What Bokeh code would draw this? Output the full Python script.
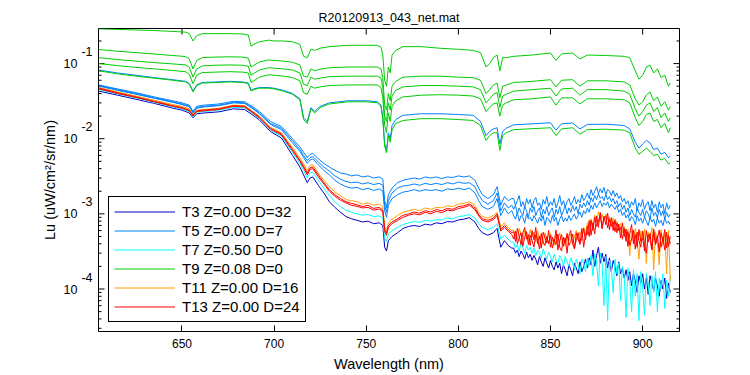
import sys
import math
from bokeh.plotting import figure
from bokeh.models import Range1d, FixedTicker, LogAxis, Legend, LegendItem
from bokeh.embed import file_html
from bokeh.resources import INLINE

# ---------------- texts / ticks ----------------
TITLE = "R20120913_043_net.mat"
XLABEL = "Wavelength (nm)"
YLABEL = "Lu (uW/cm\u00b2/sr/nm)"
XTICKS = [650, 700, 750, 800, 850, 900]
YTICKS = [1e-4, 1e-3, 1e-2, 1e-1]
YTICK_EXP = ["-4", "-3", "-2", "-1"]
YMINOR = [m * 10.0 ** e for e in range(-5, 0) for m in range(2, 10)]
X_RANGE = (604.7, 920.0)
Y_RANGE = (2.72e-5, 0.293)
LEGEND_LABELS = ["T3 Z=0.00 D=32", "T5 Z=0.00 D=7", "T7 Z=0.50 D=0",
                 "T9 Z=0.08 D=0", "T11 Z=0.00 D=16", "T13 Z=0.00 D=24"]
COLORS = ["#0000CC", "#0080FF", "#00FFFF", "#00CC00", "#FFA000", "#FF0000"]

# ---------------- upper group (green T9 + one blue T5) ----------------
WL_UP = [605, 615, 625, 635, 645, 652, 654, 656, 658, 661,
         668, 676, 683, 686, 687.5, 689, 692, 697, 700, 705,
         710, 714, 716, 718, 720, 722, 725, 730, 740, 750,
         756, 758, 759, 760, 761, 762, 763, 764, 766, 770,
         780, 790, 800, 808, 812, 815, 817, 819, 821, 822.5,
         824, 826, 830, 840, 850, 853, 856, 862, 866, 870,
         880, 890, 893, 896, 898, 900, 902, 904, 906, 908,
         910, 912, 914, 915]

G1 = [0.29, 0.285, 0.28, 0.275, 0.268, 0.262, 0.25, 0.2, 0.235, 0.25,
      0.25, 0.25, 0.248, 0.24, 0.17, 0.18, 0.195, 0.205, 0.2, 0.2,
      0.195, 0.18, 0.125, 0.12, 0.155, 0.15, 0.16, 0.168, 0.175, 0.175,
      0.175, 0.165, 0.13, 0.06, 0.05, 0.09, 0.075, 0.13, 0.15, 0.168,
      0.168, 0.16, 0.155, 0.15, 0.14, 0.09, 0.1, 0.12, 0.13, 0.08,
      0.12, 0.12, 0.125, 0.13, 0.138, 0.11, 0.135, 0.138, 0.115, 0.13,
      0.128, 0.125, 0.12, 0.08, 0.062, 0.07, 0.09, 0.095, 0.075, 0.085,
      0.065, 0.07, 0.05, 0.055]
G2 = [0.154, 0.146, 0.14, 0.134, 0.128, 0.124, 0.115, 0.085, 0.11, 0.12,
      0.122, 0.123, 0.122, 0.118, 0.09, 0.095, 0.105, 0.112, 0.11, 0.108,
      0.104, 0.096, 0.068, 0.066, 0.085, 0.08, 0.084, 0.088, 0.09, 0.09,
      0.09, 0.085, 0.065, 0.028, 0.024, 0.04, 0.032, 0.05, 0.058, 0.066,
      0.068, 0.068, 0.066, 0.065, 0.06, 0.04, 0.045, 0.052, 0.055, 0.035,
      0.05, 0.052, 0.056, 0.058, 0.061, 0.049, 0.06, 0.061, 0.05, 0.059,
      0.059, 0.057, 0.052, 0.034, 0.028, 0.031, 0.038, 0.042, 0.032, 0.036,
      0.027, 0.031, 0.024, 0.027]
G3 = [0.12, 0.113, 0.108, 0.103, 0.099, 0.096, 0.089, 0.066, 0.085, 0.093,
      0.095, 0.096, 0.095, 0.092, 0.07, 0.074, 0.082, 0.088, 0.087, 0.085,
      0.082, 0.075, 0.053, 0.051, 0.066, 0.062, 0.064, 0.067, 0.068, 0.068,
      0.068, 0.064, 0.048, 0.02, 0.017, 0.03, 0.024, 0.037, 0.044, 0.049,
      0.051, 0.051, 0.05, 0.049, 0.045, 0.03, 0.034, 0.039, 0.041, 0.026,
      0.037, 0.039, 0.043, 0.045, 0.047, 0.037, 0.046, 0.047, 0.038, 0.045,
      0.045, 0.043, 0.039, 0.025, 0.02, 0.023, 0.028, 0.03, 0.023, 0.026,
      0.019, 0.022, 0.017, 0.019]
G4 = [0.1, 0.094, 0.089, 0.085, 0.081, 0.078, 0.072, 0.054, 0.07, 0.076,
      0.077, 0.078, 0.077, 0.075, 0.056, 0.059, 0.066, 0.071, 0.07, 0.068,
      0.065, 0.059, 0.041, 0.039, 0.05, 0.047, 0.049, 0.051, 0.052, 0.052,
      0.052, 0.048, 0.035, 0.015, 0.012, 0.022, 0.017, 0.027, 0.032, 0.036,
      0.038, 0.0385, 0.038, 0.037, 0.034, 0.023, 0.026, 0.029, 0.03, 0.02,
      0.028, 0.03, 0.033, 0.034, 0.036, 0.028, 0.035, 0.035, 0.029, 0.034,
      0.034, 0.033, 0.03, 0.019, 0.015, 0.017, 0.021, 0.022, 0.017, 0.018,
      0.014, 0.016, 0.012, 0.014]
G5 = [0.08, 0.073, 0.068, 0.064, 0.06, 0.057, 0.053, 0.042, 0.051, 0.055,
      0.056, 0.057, 0.056, 0.054, 0.043, 0.045, 0.047, 0.047, 0.046, 0.043,
      0.039, 0.033, 0.018, 0.016, 0.025, 0.022, 0.026, 0.029, 0.031, 0.031,
      0.03, 0.027, 0.018, 0.008, 0.0065, 0.011, 0.009, 0.013, 0.016, 0.0175,
      0.0185, 0.0185, 0.018, 0.0175, 0.015, 0.0095, 0.011, 0.012, 0.012, 0.007,
      0.011, 0.012, 0.0132, 0.0136, 0.014, 0.011, 0.0135, 0.014, 0.0115, 0.0132,
      0.0134, 0.013, 0.012, 0.0075, 0.0062, 0.0068, 0.0075, 0.0068, 0.006, 0.0062,
      0.0052, 0.0055, 0.0046, 0.0048]
BU = [0.082, 0.075, 0.07, 0.065, 0.061, 0.058, 0.054, 0.043, 0.052, 0.056,
      0.057, 0.058, 0.057, 0.055, 0.044, 0.046, 0.048, 0.048, 0.047, 0.044,
      0.04, 0.034, 0.019, 0.017, 0.026, 0.023, 0.027, 0.03, 0.032, 0.032,
      0.031, 0.028, 0.019, 0.0085, 0.007, 0.012, 0.01, 0.015, 0.018, 0.0205,
      0.0215, 0.0215, 0.021, 0.0205, 0.017, 0.011, 0.0125, 0.0135, 0.014, 0.0085,
      0.0125, 0.0138, 0.0153, 0.0158, 0.0163, 0.013, 0.0158, 0.0162, 0.0135, 0.0155,
      0.0156, 0.015, 0.0135, 0.009, 0.0075, 0.0085, 0.0095, 0.0088, 0.0072, 0.0075,
      0.0062, 0.0066, 0.0056, 0.0058]

# ---------------- lower group ----------------
WL_LO = [605, 615, 625, 635, 645, 650, 654, 656, 658, 662,
         670, 678, 684, 688, 692, 698, 704, 710, 714, 716,
         718, 719.5, 721, 724, 727, 730, 733, 736, 739, 742,
         745, 748, 751, 754, 757, 759, 760, 761, 762, 764,
         767, 770, 773, 776, 779, 782, 785, 788, 791, 794,
         797, 800, 803, 806, 809, 811, 813, 816, 819, 821,
         823, 825, 827, 829] + list(range(830, 916))

B1 = [5.2e-2, 4.6e-2, 4.1e-2, 3.6e-2, 3.2e-2, 3.0e-2, 2.8e-2, 2.3e-2, 2.7e-2, 2.8e-2,
      2.9e-2, 3.15e-2, 3.1e-2, 2.7e-2, 2.3e-2, 1.7e-2, 1.45e-2, 1.0e-2, 7.8e-3, 6.6e-3,
      5.6e-3, 6.2e-3, 6.4e-3, 5.4e-3, 4.7e-3, 4.2e-3, 3.8e-3, 3.5e-3, 3.4e-3, 3.2e-3,
      3.3e-3, 3.1e-3, 3.2e-3, 3.0e-3, 3.1e-3, 2.9e-3, 1.5e-3, 1.2e-3, 1.8e-3, 2.2e-3,
      2.6e-3, 2.8e-3, 2.9e-3, 3.0e-3, 2.9e-3, 3.1e-3, 3.0e-3, 3.1e-3, 2.95e-3, 3.1e-3,
      3.05e-3, 3.2e-3, 3.1e-3, 3.2e-3, 2.8e-3, 2.2e-3, 1.8e-3, 1.6e-3, 1.8e-3, 2.3e-3,
      1.3e-3, 1.7e-3, 1.5e-3, 1.6e-3,
      1.6e-3, 1.3e-3, 1.5e-3, 1.75e-3, 1.25e-3, 1.45e-3, 1.2e-3, 1.6e-3, 1.35e-3, 1.55e-3,
      1.2e-3, 1.5e-3, 1.65e-3, 1.3e-3, 1.4e-3, 1.15e-3, 1.55e-3, 1.35e-3, 1.7e-3, 1.25e-3,
      1.45e-3, 1.3e-3, 1.6e-3, 1.2e-3, 1.4e-3, 1.75e-3, 1.3e-3, 1.5e-3, 1.25e-3, 1.45e-3,
      1.6e-3, 1.3e-3, 1.45e-3, 1.7e-3, 1.35e-3, 1.55e-3, 1.4e-3, 1.8e-3, 1.5e-3, 1.65e-3,
      1.9e-3, 1.6e-3, 2.1e-3, 1.75e-3, 2.0e-3, 2.3e-3, 1.85e-3, 2.15e-3, 1.9e-3, 2.25e-3,
      1.8e-3, 2.1e-3, 2.0e-3, 1.75e-3, 2.05e-3, 1.7e-3, 1.9e-3, 1.6e-3, 1.75e-3, 1.45e-3,
      1.6e-3, 1.35e-3, 1.5e-3, 1.2e-3, 1.45e-3, 1.3e-3, 1.6e-3, 1.1e-3, 1.4e-3, 1.25e-3,
      1.55e-3, 1.15e-3, 1.35e-3, 1.45e-3, 1.1e-3, 1.5e-3, 1.2e-3, 1.35e-3, 1.05e-3, 1.45e-3,
      1.2e-3, 1.35e-3, 1.0e-3, 1.4e-3, 1.15e-3, 1.3e-3]
B2 = [5.1e-2, 4.5e-2, 4.0e-2, 3.5e-2, 3.1e-2, 2.9e-2, 2.7e-2, 2.25e-2, 2.6e-2, 2.7e-2,
      2.8e-2, 3.05e-2, 3.0e-2, 2.6e-2, 2.2e-2, 1.6e-2, 1.38e-2, 9.4e-3, 7.2e-3, 6.0e-3,
      5.1e-3, 5.6e-3, 5.8e-3, 4.9e-3, 4.2e-3, 3.7e-3, 3.2e-3, 2.9e-3, 2.7e-3, 2.6e-3,
      2.65e-3, 2.5e-3, 2.6e-3, 2.45e-3, 2.55e-3, 2.4e-3, 1.3e-3, 1.05e-3, 1.5e-3, 1.9e-3,
      2.2e-3, 2.35e-3, 2.4e-3, 2.5e-3, 2.4e-3, 2.55e-3, 2.45e-3, 2.55e-3, 2.45e-3, 2.6e-3,
      2.5e-3, 2.65e-3, 2.55e-3, 2.6e-3, 2.3e-3, 1.8e-3, 1.5e-3, 1.35e-3, 1.5e-3, 1.9e-3,
      1.1e-3, 1.4e-3, 1.2e-3, 1.3e-3,
      1.15e-3, 1.3e-3, 1.0e-3, 1.2e-3, 1.05e-3, 0.95e-3, 1.25e-3, 1.1e-3, 0.9e-3, 1.2e-3,
      1.05e-3, 1.25e-3, 0.95e-3, 1.1e-3, 1.2e-3, 0.9e-3, 1.15e-3, 1.0e-3, 1.25e-3, 0.95e-3,
      1.1e-3, 1.2e-3, 0.9e-3, 1.15e-3, 1.0e-3, 1.25e-3, 0.95e-3, 1.1e-3, 1.3e-3, 1.0e-3,
      1.2e-3, 1.05e-3, 1.3e-3, 1.1e-3, 1.25e-3, 1.0e-3, 1.35e-3, 1.2e-3, 1.4e-3, 1.25e-3,
      1.5e-3, 1.3e-3, 1.65e-3, 1.45e-3, 1.75e-3, 1.55e-3, 1.85e-3, 1.6e-3, 1.7e-3, 1.5e-3,
      1.8e-3, 1.55e-3, 1.7e-3, 1.45e-3, 1.6e-3, 1.35e-3, 1.5e-3, 1.25e-3, 1.4e-3, 1.15e-3,
      1.3e-3, 1.05e-3, 1.2e-3, 0.95e-3, 1.15e-3, 1.0e-3, 0.9e-3, 1.2e-3, 1.05e-3, 0.95e-3,
      1.15e-3, 0.9e-3, 1.1e-3, 1.0e-3, 0.85e-3, 1.2e-3, 0.95e-3, 1.05e-3, 0.88e-3, 1.15e-3,
      0.95e-3, 1.1e-3, 0.85e-3, 1.05e-3, 0.9e-3, 1.0e-3]
B3 = [5.0e-2, 4.4e-2, 3.9e-2, 3.45e-2, 3.05e-2, 2.85e-2, 2.65e-2, 2.2e-2, 2.55e-2, 2.65e-2,
      2.75e-2, 3.0e-2, 2.95e-2, 2.55e-2, 2.15e-2, 1.55e-2, 1.32e-2, 8.8e-3, 6.8e-3, 5.6e-3,
      4.7e-3, 5.2e-3, 5.4e-3, 4.5e-3, 3.8e-3, 3.3e-3, 2.8e-3, 2.5e-3, 2.3e-3, 2.2e-3,
      2.25e-3, 2.1e-3, 2.2e-3, 2.05e-3, 2.15e-3, 2.0e-3, 1.1e-3, 0.9e-3, 1.3e-3, 1.6e-3,
      1.8e-3, 1.95e-3, 2.0e-3, 2.1e-3, 2.0e-3, 2.1e-3, 2.05e-3, 2.1e-3, 2.0e-3, 2.15e-3,
      2.1e-3, 2.2e-3, 2.1e-3, 2.2e-3, 1.9e-3, 1.5e-3, 1.25e-3, 1.15e-3, 1.25e-3, 1.6e-3,
      0.95e-3, 1.2e-3, 1.0e-3, 1.1e-3,
      0.95e-3, 0.85e-3, 1.05e-3, 0.8e-3, 0.95e-3, 0.9e-3, 0.75e-3, 1.0e-3, 0.85e-3, 0.9e-3,
      0.8e-3, 0.95e-3, 0.85e-3, 0.75e-3, 0.9e-3, 0.8e-3, 0.95e-3, 0.7e-3, 0.9e-3, 0.85e-3,
      0.75e-3, 0.95e-3, 0.8e-3, 0.9e-3, 0.7e-3, 0.85e-3, 0.95e-3, 0.78e-3, 0.88e-3, 0.8e-3,
      0.95e-3, 0.82e-3, 0.9e-3, 1.0e-3, 0.85e-3, 0.95e-3, 1.05e-3, 0.9e-3, 1.1e-3, 1.0e-3,
      1.2e-3, 1.05e-3, 1.3e-3, 1.15e-3, 1.4e-3, 1.2e-3, 1.35e-3, 1.5e-3, 1.25e-3, 1.4e-3,
      1.3e-3, 1.45e-3, 1.2e-3, 1.35e-3, 1.25e-3, 1.15e-3, 1.3e-3, 1.05e-3, 1.15e-3, 0.95e-3,
      1.05e-3, 0.88e-3, 0.98e-3, 0.8e-3, 0.92e-3, 0.85e-3, 0.72e-3, 0.95e-3, 0.8e-3, 0.88e-3,
      0.75e-3, 0.92e-3, 0.8e-3, 0.7e-3, 0.9e-3, 0.78e-3, 0.85e-3, 0.68e-3, 0.88e-3, 0.75e-3,
      0.82e-3, 0.7e-3, 0.88e-3, 0.75e-3, 0.8e-3, 0.72e-3]
OR = [4.8e-2, 4.2e-2, 3.7e-2, 3.25e-2, 2.85e-2, 2.7e-2, 2.5e-2, 2.1e-2, 2.4e-2, 2.45e-2,
      2.55e-2, 2.8e-2, 2.75e-2, 2.35e-2, 2.0e-2, 1.42e-2, 1.2e-2, 7.6e-3, 5.6e-3, 4.6e-3,
      3.8e-3, 4.4e-3, 4.5e-3, 3.5e-3, 2.8e-3, 2.3e-3, 1.95e-3, 1.75e-3, 1.55e-3, 1.5e-3,
      1.45e-3, 1.35e-3, 1.4e-3, 1.3e-3, 1.35e-3, 1.25e-3, 6.8e-4, 6.0e-4, 7.5e-4, 8.5e-4,
      9.5e-4, 1.05e-3, 1.1e-3, 1.15e-3, 1.1e-3, 1.2e-3, 1.15e-3, 1.22e-3, 1.2e-3, 1.28e-3,
      1.25e-3, 1.35e-3, 1.38e-3, 1.45e-3, 1.3e-3, 1.05e-3, 9.2e-4, 8.8e-4, 9.5e-4, 1.05e-3,
      6.8e-4, 7.6e-4, 6.6e-4, 6.0e-4,
      6.1e-4, 5.0e-4, 4.6e-4, 6.4e-4, 5.4e-4, 4.4e-4, 6.0e-4, 5.2e-4, 4.3e-4, 6.2e-4,
      4.9e-4, 5.7e-4, 4.2e-4, 5.9e-4, 4.6e-4, 5.1e-4, 3.9e-4, 5.6e-4, 4.5e-4, 4.0e-4,
      5.5e-4, 4.5e-4, 3.8e-4, 5.2e-4, 4.3e-4, 5.6e-4, 4.0e-4, 4.7e-4, 3.7e-4, 5.1e-4,
      4.4e-4, 5.4e-4, 3.9e-4, 5.0e-4, 6.0e-4, 4.5e-4, 5.8e-4, 4.8e-4, 6.6e-4, 5.6e-4,
      7.6e-4, 6.1e-4, 8.6e-4, 7.0e-4, 9.6e-4, 7.8e-4, 1.06e-3, 8.5e-4, 9.9e-4, 8.0e-4,
      1.0e-3, 8.4e-4, 9.2e-4, 7.0e-4, 8.8e-4, 7.4e-4, 8.0e-4, 6.2e-4, 7.5e-4, 5.6e-4,
      6.8e-4, 4.9e-4, 6.2e-4, 2.8e-4, 5.9e-4, 4.4e-4, 6.4e-4, 4.6e-4, 2.5e-4, 5.9e-4,
      4.5e-4, 6.3e-4, 2.2e-4, 5.7e-4, 4.6e-4, 6.6e-4, 1.8e-4, 5.8e-4, 4.3e-4, 2.1e-4,
      6.2e-4, 3.8e-4, 5.4e-4, 1.6e-4, 6.1e-4, 1.3e-4]
R1 = [4.7e-2, 4.1e-2, 3.6e-2, 3.15e-2, 2.75e-2, 2.6e-2, 2.4e-2, 2.05e-2, 2.35e-2, 2.4e-2,
      2.5e-2, 2.75e-2, 2.7e-2, 2.3e-2, 1.95e-2, 1.38e-2, 1.16e-2, 7.2e-3, 5.2e-3, 4.3e-3,
      3.5e-3, 4.1e-3, 4.2e-3, 3.3e-3, 2.6e-3, 2.1e-3, 1.8e-3, 1.6e-3, 1.45e-3, 1.38e-3,
      1.32e-3, 1.25e-3, 1.3e-3, 1.18e-3, 1.22e-3, 1.12e-3, 6.2e-4, 5.5e-4, 7.0e-4, 7.8e-4,
      8.6e-4, 9.6e-4, 1.0e-3, 1.06e-3, 1.02e-3, 1.1e-3, 1.06e-3, 1.14e-3, 1.1e-3, 1.18e-3,
      1.15e-3, 1.25e-3, 1.28e-3, 1.36e-3, 1.2e-3, 9.8e-4, 8.6e-4, 8.2e-4, 8.8e-4, 1.0e-3,
      6.2e-4, 7.0e-4, 6.2e-4, 5.6e-4,
      5.8e-4, 4.3e-4, 6.4e-4, 5.1e-4, 3.9e-4, 5.6e-4, 6.6e-4, 4.6e-4, 5.3e-4, 3.8e-4,
      6.0e-4, 4.5e-4, 6.6e-4, 4.0e-4, 5.1e-4, 3.5e-4, 5.7e-4, 4.8e-4, 4.1e-4, 6.0e-4,
      3.6e-4, 4.9e-4, 4.2e-4, 6.1e-4, 3.3e-4, 4.4e-4, 5.3e-4, 3.7e-4, 4.8e-4, 3.0e-4,
      5.2e-4, 6.0e-4, 4.0e-4, 3.4e-4, 5.6e-4, 4.6e-4, 3.9e-4, 6.4e-4, 3.6e-4, 5.4e-4,
      5.3e-4, 8.2e-4, 5.2e-4, 7.6e-4, 5.4e-4, 9.4e-4, 6.6e-4, 1.05e-3, 6.3e-4, 9.3e-4,
      7.2e-4, 1.02e-3, 6.1e-4, 8.9e-4, 6.0e-4, 8.4e-4, 5.6e-4, 7.3e-4, 4.8e-4, 7.6e-4,
      5.0e-4, 6.3e-4, 3.7e-4, 5.4e-4, 7.2e-4, 4.0e-4, 5.3e-4, 3.6e-4, 6.2e-4, 4.3e-4,
      4.8e-4, 3.2e-4, 6.0e-4, 4.2e-4, 5.5e-4, 3.4e-4, 6.3e-4, 4.1e-4, 5.1e-4, 3.1e-4,
      5.6e-4, 4.3e-4, 6.2e-4, 3.5e-4, 5.2e-4, 4.0e-4]
R2 = [4.6e-2, 4.0e-2, 3.55e-2, 3.1e-2, 2.7e-2, 2.55e-2, 2.35e-2, 2.0e-2, 2.3e-2, 2.35e-2,
      2.45e-2, 2.7e-2, 2.65e-2, 2.25e-2, 1.9e-2, 1.34e-2, 1.12e-2, 6.9e-3, 5.0e-3, 4.1e-3,
      3.3e-3, 3.9e-3, 4.0e-3, 3.1e-3, 2.5e-3, 2.0e-3, 1.72e-3, 1.52e-3, 1.4e-3, 1.3e-3,
      1.26e-3, 1.2e-3, 1.22e-3, 1.12e-3, 1.16e-3, 1.06e-3, 5.8e-4, 5.2e-4, 6.6e-4, 7.4e-4,
      8.2e-4, 9.0e-4, 9.6e-4, 1.0e-3, 9.7e-4, 1.05e-3, 1.0e-3, 1.08e-3, 1.04e-3, 1.12e-3,
      1.1e-3, 1.18e-3, 1.22e-3, 1.3e-3, 1.14e-3, 9.4e-4, 8.2e-4, 7.8e-4, 8.4e-4, 9.5e-4,
      5.9e-4, 6.6e-4, 5.9e-4, 5.3e-4,
      4.6e-4, 5.9e-4, 4.0e-4, 4.8e-4, 5.6e-4, 3.7e-4, 4.9e-4, 5.8e-4, 3.9e-4, 5.2e-4,
      4.4e-4, 3.6e-4, 5.3e-4, 4.7e-4, 3.4e-4, 5.5e-4, 4.2e-4, 3.8e-4, 5.0e-4, 4.0e-4,
      5.2e-4, 3.5e-4, 4.5e-4, 3.9e-4, 5.4e-4, 3.6e-4, 3.2e-4, 4.9e-4, 4.1e-4, 5.5e-4,
      3.8e-4, 4.3e-4, 5.4e-4, 3.5e-4, 4.5e-4, 5.6e-4, 4.1e-4, 4.7e-4, 6.4e-4, 4.5e-4,
      6.9e-4, 5.0e-4, 8.2e-4, 6.0e-4, 9.0e-4, 6.8e-4, 8.0e-4, 9.6e-4, 6.6e-4, 8.7e-4,
      9.4e-4, 6.5e-4, 8.5e-4, 6.8e-4, 7.9e-4, 5.8e-4, 7.6e-4, 6.0e-4, 6.6e-4, 4.6e-4,
      6.4e-4, 4.3e-4, 5.8e-4, 3.8e-4, 4.6e-4, 6.1e-4, 3.4e-4, 5.7e-4, 4.4e-4, 3.6e-4,
      5.9e-4, 4.0e-4, 3.0e-4, 5.3e-4, 4.6e-4, 3.3e-4, 5.8e-4, 3.9e-4, 4.6e-4, 6.1e-4,
      3.6e-4, 4.8e-4, 3.3e-4, 5.7e-4, 3.7e-4, 5.0e-4]
CY = [4.5e-2, 3.95e-2, 3.5e-2, 3.05e-2, 2.65e-2, 2.5e-2, 2.3e-2, 1.95e-2, 2.25e-2, 2.3e-2,
      2.4e-2, 2.62e-2, 2.58e-2, 2.2e-2, 1.85e-2, 1.3e-2, 1.08e-2, 6.6e-3, 4.7e-3, 3.8e-3,
      3.0e-3, 3.5e-3, 3.6e-3, 2.8e-3, 2.2e-3, 1.75e-3, 1.45e-3, 1.25e-3, 1.12e-3, 1.05e-3,
      1.0e-3, 9.6e-4, 9.8e-4, 9.2e-4, 9.4e-4, 8.8e-4, 4.8e-4, 4.3e-4, 5.4e-4, 6.0e-4,
      6.6e-4, 7.2e-4, 7.6e-4, 7.9e-4, 7.7e-4, 8.2e-4, 8.0e-4, 8.4e-4, 8.3e-4, 8.8e-4,
      8.6e-4, 9.2e-4, 9.4e-4, 9.8e-4, 8.8e-4, 7.4e-4, 6.6e-4, 6.2e-4, 6.6e-4, 7.4e-4,
      4.6e-4, 5.2e-4, 4.6e-4, 4.2e-4,
      4.2e-4, 3.5e-4, 3.9e-4, 3.2e-4, 4.1e-4, 3.6e-4, 3.0e-4, 3.8e-4, 3.3e-4, 3.6e-4,
      3.0e-4, 3.5e-4, 2.8e-4, 3.3e-4, 3.1e-4, 2.6e-4, 3.4e-4, 2.9e-4, 2.5e-4, 3.1e-4,
      2.7e-4, 2.3e-4, 2.9e-4, 2.4e-4, 2.2e-4, 2.8e-4, 2.5e-4, 2.0e-4, 2.7e-4, 2.3e-4,
      2.0e-4, 2.6e-4, 2.2e-4, 1.8e-4, 2.5e-4, 2.1e-4, 1.6e-4, 2.5e-4, 2.2e-4, 1.7e-4,
      2.6e-4, 2.0e-4, 2.8e-4, 1.5e-4, 2.9e-4, 2.3e-4, 1.1e-4, 3.0e-4, 2.2e-4, 0.6e-4,
      2.7e-4, 0.38e-4, 2.4e-4, 1.9e-4, 0.9e-4, 2.5e-4, 1.6e-4, 2.2e-4, 0.7e-4, 2.0e-4,
      1.5e-4, 0.42e-4, 1.9e-4, 1.3e-4, 0.5e-4, 1.8e-4, 0.8e-4, 1.6e-4, 0.38e-4, 1.7e-4,
      1.1e-4, 0.45e-4, 1.6e-4, 1.2e-4, 0.6e-4, 1.5e-4, 0.9e-4, 1.7e-4, 0.5e-4, 1.4e-4,
      1.0e-4, 1.6e-4, 0.55e-4, 1.3e-4, 0.8e-4, 1.5e-4]
DB = [4.3e-2, 3.8e-2, 3.35e-2, 2.95e-2, 2.55e-2, 2.4e-2, 2.2e-2, 1.9e-2, 2.15e-2, 2.2e-2,
      2.28e-2, 2.5e-2, 2.45e-2, 2.1e-2, 1.78e-2, 1.25e-2, 1.02e-2, 6.0e-3, 4.2e-3, 3.3e-3,
      2.6e-3, 3.0e-3, 3.1e-3, 2.4e-3, 1.9e-3, 1.45e-3, 1.22e-3, 1.05e-3, 9.2e-4, 8.6e-4,
      8.2e-4, 7.8e-4, 8.0e-4, 7.4e-4, 7.6e-4, 7.0e-4, 3.6e-4, 3.2e-4, 4.4e-4, 5.0e-4,
      5.6e-4, 6.4e-4, 6.8e-4, 7.0e-4, 6.8e-4, 7.3e-4, 7.1e-4, 7.6e-4, 7.4e-4, 7.9e-4,
      7.8e-4, 8.3e-4, 8.5e-4, 8.9e-4, 7.8e-4, 6.4e-4, 5.6e-4, 5.2e-4, 5.6e-4, 6.4e-4,
      3.6e-4, 4.4e-4, 3.8e-4, 3.5e-4,
      3.5e-4, 3.0e-4, 3.3e-4, 2.7e-4, 3.2e-4, 2.9e-4, 2.5e-4, 3.1e-4, 2.6e-4, 2.9e-4,
      2.4e-4, 2.8e-4, 2.5e-4, 2.1e-4, 2.7e-4, 2.3e-4, 2.0e-4, 2.6e-4, 2.2e-4, 1.9e-4,
      2.4e-4, 2.0e-4, 1.8e-4, 2.3e-4, 1.9e-4, 2.2e-4, 1.6e-4, 2.1e-4, 1.8e-4, 1.5e-4,
      2.1e-4, 1.8e-4, 1.5e-4, 2.2e-4, 1.9e-4, 1.6e-4, 2.3e-4, 1.7e-4, 2.0e-4, 2.5e-4,
      1.9e-4, 2.6e-4, 2.1e-4, 3.3e-4, 2.0e-4, 2.8e-4, 3.6e-4, 2.2e-4, 3.0e-4, 2.3e-4,
      2.9e-4, 1.9e-4, 2.6e-4, 1.7e-4, 2.4e-4, 2.0e-4, 1.5e-4, 2.3e-4, 1.6e-4, 1.9e-4,
      1.4e-4, 1.8e-4, 1.3e-4, 1.7e-4, 1.1e-4, 1.6e-4, 1.3e-4, 0.9e-4, 1.5e-4, 1.2e-4,
      1.6e-4, 1.0e-4, 1.4e-4, 0.85e-4, 1.5e-4, 1.2e-4, 0.95e-4, 1.4e-4, 1.1e-4, 0.8e-4,
      1.3e-4, 1.0e-4, 1.4e-4, 0.75e-4, 1.2e-4, 0.9e-4]

FONT = "Liberation Sans"
FRAME_H = 303

p = figure(width=750, height=375,
           x_range=Range1d(*X_RANGE), y_range=Range1d(*Y_RANGE),
           y_axis_type="log", output_backend="svg", toolbar_location=None,
           min_border_left=98, min_border_right=71, min_border_top=28, min_border_bottom=44,
           background_fill_color="white", border_fill_color="white")
p.grid.visible = False
p.outline_line_color = "black"
p.outline_line_width = 1

# title
p.title.text = TITLE
p.title.align = "center"
p.title.text_font = FONT
p.title.text_font_size = "12.5px"
p.title.text_font_style = "normal"
p.title.text_color = "black"
p.title.standoff = 8

# bottom axis
xax = p.xaxis[0]
xax.ticker = FixedTicker(ticks=XTICKS)
xax.axis_line_color = "black"
xax.major_tick_line_color = "black"
xax.major_tick_in = 6
xax.major_tick_out = 0
xax.minor_tick_in = 0
xax.minor_tick_out = 0
xax.major_label_text_font = FONT
xax.major_label_text_font_size = "12px"
xax.major_label_text_color = "black"
xax.major_label_standoff = 7
xax.axis_label = XLABEL
xax.axis_label_text_font = FONT
xax.axis_label_text_font_size = "14.5px"
xax.axis_label_text_font_style = "normal"
xax.axis_label_text_color = "black"
xax.axis_label_standoff = 5

# left: inner axis carries the raised exponents, outer axis carries "10" and the title
px_per_decade = FRAME_H / math.log10(Y_RANGE[1] / Y_RANGE[0])
raise_factor = 10 ** (12 / px_per_decade)
exp_pos = [v * raise_factor for v in YTICKS]

yax = p.yaxis[0]
yax.ticker = FixedTicker(ticks=exp_pos, minor_ticks=[])
yax.major_label_overrides = {pos: e for pos, e in zip(exp_pos, YTICK_EXP)}
yax.axis_line_color = None
yax.major_tick_line_color = None
yax.minor_tick_line_color = None
yax.major_tick_in = 0
yax.major_tick_out = 0
yax.minor_tick_in = 0
yax.minor_tick_out = 0
yax.major_label_text_font = FONT
yax.major_label_text_font_size = "12.5px"
yax.major_label_text_color = "black"
yax.major_label_standoff = 6

outer = LogAxis(ticker=FixedTicker(ticks=YTICKS, minor_ticks=[]),
                major_label_overrides={v: "10" for v in YTICKS},
                axis_line_color=None, major_tick_line_color=None, minor_tick_line_color=None,
                major_tick_in=0, major_tick_out=0, minor_tick_in=0, minor_tick_out=0,
                major_label_text_font=FONT, major_label_text_font_size="12.5px",
                major_label_text_color="black", major_label_standoff=1,
                axis_label=YLABEL, axis_label_text_font=FONT, axis_label_text_font_size="14.5px",
                axis_label_text_font_style="normal", axis_label_text_color="black",
                axis_label_standoff=3)
p.add_layout(outer, "left")

# inward tick marks on the left, top and right edges of the box
p.ray(x=[X_RANGE[0]] * len(YTICKS), y=YTICKS, length=6, length_units="screen",
      angle=0, line_color="black", line_width=1)
p.ray(x=[X_RANGE[0]] * len(YMINOR), y=YMINOR, length=3, length_units="screen",
      angle=0, line_color="black", line_width=1)
p.ray(x=XTICKS, y=[Y_RANGE[1]] * len(XTICKS), length=6, length_units="screen",
      angle=-math.pi / 2, line_color="black", line_width=1)
p.ray(x=[X_RANGE[1]] * len(YTICKS), y=YTICKS, length=6, length_units="screen",
      angle=math.pi, line_color="black", line_width=1)
p.ray(x=[X_RANGE[1]] * len(YMINOR), y=YMINOR, length=3, length_units="screen",
      angle=math.pi, line_color="black", line_width=1)


def draw(x, y, color):
    n = min(len(x), len(y))
    if len(x) != len(y):
        print("length mismatch", len(x), len(y), file=sys.stderr)
    return p.line(x[:n], y[:n], line_color=color, line_width=1)


r_t3 = draw(WL_LO, DB, COLORS[0])
r_t5 = draw(WL_LO, B1, COLORS[1])
draw(WL_LO, B2, COLORS[1])
draw(WL_LO, B3, COLORS[1])
draw(WL_UP, BU, COLORS[1])
r_t7 = draw(WL_LO, CY, COLORS[2])
r_t9 = draw(WL_UP, G1, COLORS[3])
for g in (G2, G3, G4, G5):
    draw(WL_UP, g, COLORS[3])
r_t11 = draw(WL_LO, OR, COLORS[4])
r_t13 = draw(WL_LO, R1, COLORS[5])
draw(WL_LO, R2, COLORS[5])

legend = Legend(items=[LegendItem(label=lab, renderers=[r]) for lab, r in
                       zip(LEGEND_LABELS, [r_t3, r_t5, r_t7, r_t9, r_t11, r_t13])],
                location=(10, 9), padding=5, spacing=0, margin=0,
                glyph_width=61, glyph_height=19, label_height=19, label_standoff=7,
                label_text_font=FONT, label_text_font_size="15px", label_text_color="black",
                border_line_color="black", border_line_width=1, border_line_alpha=1,
                background_fill_color="white", background_fill_alpha=1)
p.add_layout(legend)

open("out.html", "w").write(file_html(p, INLINE))
